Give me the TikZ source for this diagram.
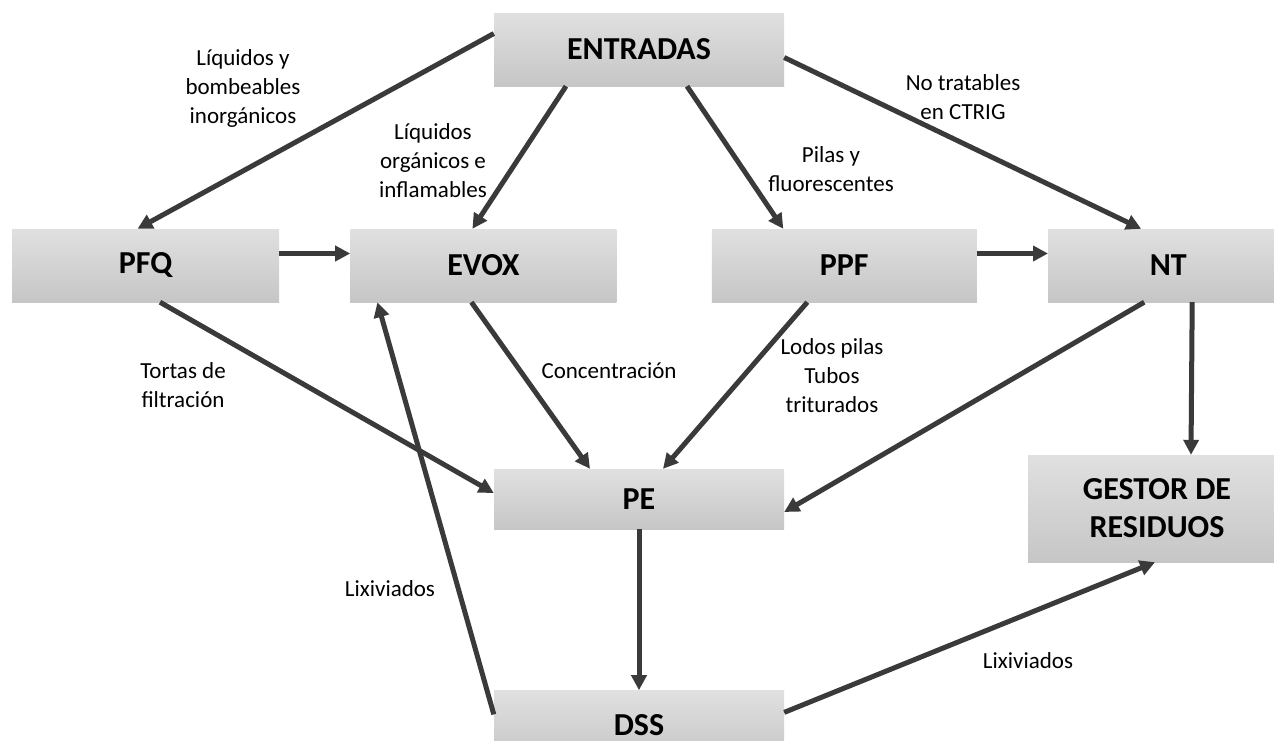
\documentclass[tikz,border=0pt]{standalone}
\usepackage{fontspec}
\setmainfont{Carlito}
\usetikzlibrary{arrows.meta,positioning}

\definecolor{boxtop}{RGB}{224,224,224}
\definecolor{boxbot}{RGB}{198,198,198}
\definecolor{wire}{RGB}{58,58,58}

\begin{document}
\begin{tikzpicture}[x=1pt,y=-1pt,>={Triangle[length=15pt,width=15pt]},
    proc/.style={rectangle, inner sep=0pt, top color=boxtop, bottom color=boxbot,
      minimum height=73pt, align=center, font=\fontsize{32}{38}\selectfont\bfseries},
    note/.style={inner sep=0pt, align=center, font=\fontsize{23}{29}\selectfont},
    flow/.style={->, color=wire, line width=5pt}]
    \useasboundingbox (0,0) rectangle (1274,740);
    \clip (0,0) rectangle (1274,740);

    \node[proc, minimum width=290pt] (entradas) at (639,49.5)   {ENTRADAS};
    \node[proc, minimum width=267pt] (pfq)      at (145.5,265.5) {PFQ};
    \node[proc, minimum width=266pt] (evox) [right=71pt of pfq]  {EVOX};
    \node[proc, minimum width=265pt] (ppf)  [right=95pt of evox] {PPF};
    \node[proc, minimum width=240pt] (nt)   [right=71pt of ppf]  {NT};
    \node[proc, minimum width=290pt, minimum height=60pt] (pe) at (639,499) {PE};
    \node[proc, minimum width=290pt, minimum height=70pt] (dss) [below=161pt of pe] {DSS};
    \node[proc, minimum width=258pt, minimum height=107pt] (gestor) at (1157,508.5) {GESTOR DE\\RESIDUOS};

    \path[flow]
    ([yshift=16pt]entradas.west)    edge ([xshift=-8pt]pfq.north)
    ([xshift=-73pt]entradas.south)  edge ([xshift=-11pt]evox.north)
    ([xshift=48pt]entradas.south)   edge ([xshift=-61pt]ppf.north)
    ([yshift=-8pt]entradas.east)    edge ([xshift=-27pt]nt.north)
    ([yshift=12pt]pfq.east)         edge ([yshift=12pt]evox.west)
    ([yshift=12pt]ppf.east)         edge ([yshift=12pt]nt.west)
    ([xshift=-12pt]evox.south)      edge ([xshift=-49pt]pe.north)
    ([xshift=-37pt]ppf.south)       edge ([xshift=24pt]pe.north)
    ([xshift=-24pt]nt.south)        edge ([yshift=-13pt]pe.east)
    ([xshift=24pt]nt.south)         edge ([xshift=34pt]gestor.north)
    ([xshift=14.5pt]pfq.south)      edge ([yshift=6pt]pe.west)
    (pe.south)                      edge (dss.north)
    ([yshift=11pt]dss.west)         edge ([xshift=-106pt]evox.south)
    ([yshift=13pt]dss.east)         edge ([xshift=-2pt]gestor.south)
    ;

    \node[note] (n-inorg)  at (243,88)   {Líquidos y\\bombeables\\inorgánicos};
    \node[note] (n-org)    at (433,161)  {Líquidos\\orgánicos e\\inflamables};
    \node[note] (n-pilas)  at (831,169)  {Pilas y\\fluorescentes};
    \node[note] (n-ctrig)  at (963,97)   {No tratables\\en CTRIG};
    \node[note] (n-tortas) at (183,385)  {Tortas de\\filtración};
    \node[note] (n-conc)   at (609,371)  {Concentración};
    \node[note] (n-lodos)  at (832,376)  {Lodos pilas\\Tubos\\triturados};
    \node[note] (n-lix1)   at (390,589)  {Lixiviados};
    \node[note] (n-lix2)   at (1028,661) {Lixiviados};
  \end{tikzpicture}
\end{document}
